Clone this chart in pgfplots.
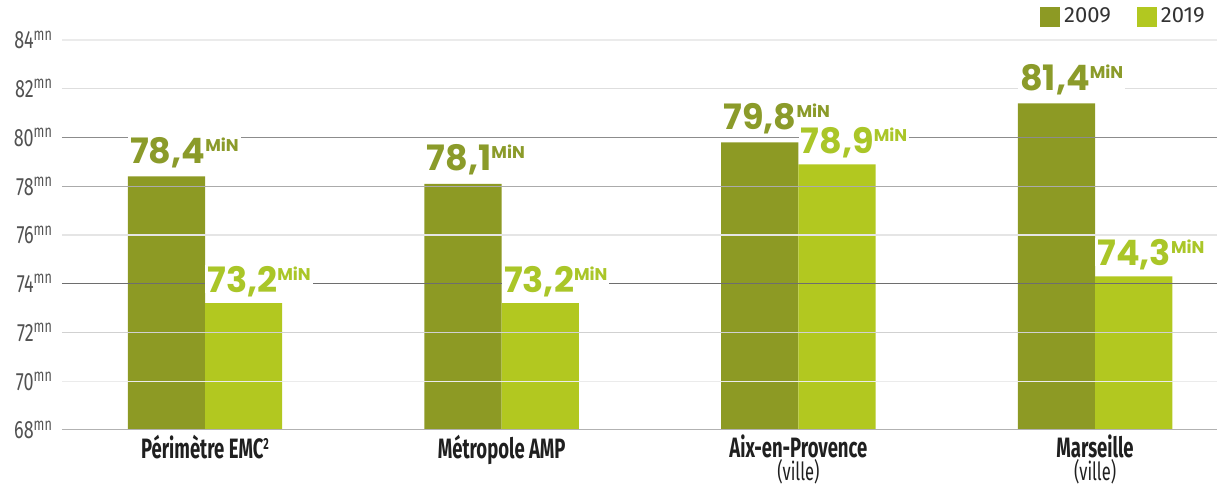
\documentclass[border=0pt]{standalone}
\usepackage{fontspec}
\usepackage{pgfplots}
\pgfplotsset{compat=1.18}
\usepackage{pgfplotstable}
\newfontfamily\valfont{Poppins}
\newfontfamily\catfont[FakeStretch=0.66]{Fira Sans}
\newfontfamily\tickfont[FakeStretch=0.72]{Fira Sans}
\newfontfamily\legfont{Fira Sans}
\definecolor{darkbar}{RGB}{141,154,36}
\definecolor{lightbar}{RGB}{178,200,32}
\definecolor{darklab}{RGB}{139,155,42}
\definecolor{lightlab}{RGB}{170,198,40}

\pgfplotstableread{
x a b
0 78.4 73.2
1 78.1 73.2
2 79.8 78.9
3 81.4 74.3
}\data

\newcommand{\valnode}{\pgfmathprintnumber[fixed,fixed zerofill,precision=1,use comma,assume math mode=true]{\pgfplotspointmeta}\raisebox{6pt}{\fontsize{8.5}{8.5}\selectfont MiN}}

\begin{document}
\begin{tikzpicture}
\begin{axis}[
  at={(0,0)}, anchor=south west,
  scale only axis, width=577.5pt, height=195pt,
  xmin=-0.482, xmax=3.411, ymin=68, ymax=84,
  axis line style={draw=none},
  major tick length=0pt,
  ytick={68,70,...,84},
  yticklabels={68\textsuperscript{mn},70\textsuperscript{mn},72\textsuperscript{mn},74\textsuperscript{mn},76\textsuperscript{mn},78\textsuperscript{mn},80\textsuperscript{mn},82\textsuperscript{mn},84\textsuperscript{mn}},
  yticklabel style={font=\tickfont\fontsize{12.5}{12.5}\selectfont, text=black!68, xshift=-1pt},
  xtick={0,1,2,3},
  xticklabels={P\'erim\`etre EMC{\fontsize{8}{8}\selectfont\raisebox{4.5pt}{2}}, M\'etropole AMP, Aix-en-Provence\\{\mdseries\fontsize{12.5}{11}\selectfont (ville)}, Marseille\\{\mdseries\fontsize{12.5}{11}\selectfont (ville)}},
  xticklabel style={font=\catfont\bfseries\fontsize{14}{11.5}\selectfont, text=black!88, align=center, yshift=1pt},
  legend style={at={(1,1)}, anchor=south east, yshift=3pt, xshift=-1pt, draw=none, fill=none,
    font=\legfont\fontsize{11}{11}\selectfont, text=black!80, legend columns=2,
    /tikz/every even column/.append style={column sep=11pt},
    nodes={inner xsep=2pt}},
  legend image code/.code={\fill[#1,draw=none] (0pt,-5pt) rectangle (10pt,5pt);},
  clip=true,
]
\addplot[ybar, bar width=38.6pt, bar shift=-19.3pt, fill=darkbar, draw=none] table[x=x,y=a]{\data};
\addlegendentry{2009}
\addplot[ybar, bar width=38.6pt, bar shift=19.3pt, fill=lightbar, draw=none] table[x=x,y=b]{\data};
\addlegendentry{2019}
% grid lines drawn over the bars
\addplot[sharp plot, no markers, forget plot, color=black!8, line width=0.6pt] coordinates {(-0.482,84) (3.411,84)};
\addplot[sharp plot, no markers, forget plot, color=black!13, line width=0.6pt] coordinates {(-0.482,82) (3.411,82)};
\addplot[sharp plot, no markers, forget plot, color=black!45, line width=0.6pt] coordinates {(-0.482,80) (3.411,80)};
\addplot[sharp plot, no markers, forget plot, color=black!33, line width=0.6pt] coordinates {(-0.482,78) (3.411,78)};
\addplot[sharp plot, no markers, forget plot, color=black!10, line width=0.6pt] coordinates {(-0.482,76) (3.411,76)};
\addplot[sharp plot, no markers, forget plot, color=black!57, line width=0.6pt] coordinates {(-0.482,74) (3.411,74)};
\addplot[sharp plot, no markers, forget plot, color=black!18, line width=0.6pt] coordinates {(-0.482,72) (3.411,72)};
\addplot[sharp plot, no markers, forget plot, color=black!8, line width=0.6pt] coordinates {(-0.482,70) (3.411,70)};
\addplot[sharp plot, no markers, forget plot, color=black!30, line width=0.8pt] coordinates {(-0.482,68) (3.411,68)};
% value labels
\addplot[sharp plot, draw=none, no markers, forget plot,
  nodes near coords={\valnode},
  every node near coord/.append style={anchor=base west, xshift=-38.6pt, yshift=6.5pt,
    fill=white, inner xsep=1pt, inner ysep=0.5pt, text depth=0pt, text=darklab, font=\valfont\bfseries\fontsize{17.5}{17.5}\selectfont}]
  table[x=x,y=a]{\data};
\addplot[sharp plot, draw=none, no markers, forget plot,
  nodes near coords={\valnode},
  every node near coord/.append style={anchor=base west, xshift=0pt, yshift=5.5pt,
    fill=white, inner xsep=1pt, inner ysep=0.5pt, text depth=0pt, text=lightlab, font=\valfont\bfseries\fontsize{17.5}{17.5}\selectfont}]
  table[x=x,y=b]{\data};
\end{axis}
\pgfresetboundingbox
\path[use as bounding box] (-31pt,-30pt) rectangle (577.5pt,215pt);
\end{tikzpicture}
\end{document}
